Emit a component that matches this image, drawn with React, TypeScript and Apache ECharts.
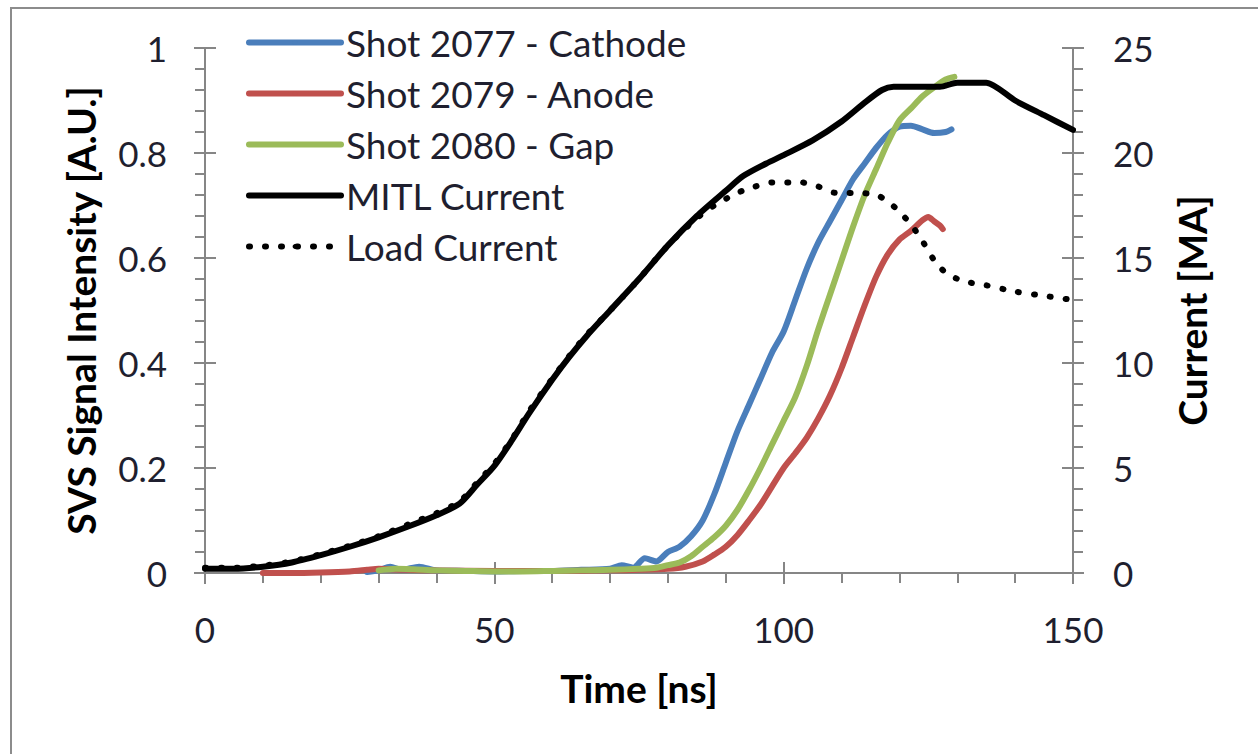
import React, { useEffect, useRef } from "react";
import * as echarts from "echarts";

// Time bases [ns] and signals for each trace
const CATHODE_T = [28, 30, 32, 34, 37, 40, 45, 50, 55, 60, 65, 70, 72, 74, 76, 78, 80, 82, 84, 86, 88, 90, 92, 94, 96, 98, 100, 102, 104, 106, 108, 110, 112, 114, 116, 118, 120, 122, 124, 126, 128, 129];
const CATHODE_V = [0.002, 0.005, 0.012, 0.006, 0.012, 0.005, 0.004, 0.003, 0.004, 0.004, 0.006, 0.008, 0.015, 0.01, 0.028, 0.022, 0.04, 0.05, 0.07, 0.1, 0.15, 0.21, 0.27, 0.32, 0.37, 0.42, 0.46, 0.52, 0.58, 0.63, 0.67, 0.71, 0.75, 0.78, 0.81, 0.835, 0.85, 0.852, 0.845, 0.838, 0.84, 0.845];

const ANODE_T = [10, 15, 20, 25, 28, 30, 35, 40, 50, 60, 70, 75, 80, 83, 86, 88, 90, 92, 94, 96, 98, 100, 102, 104, 106, 108, 110, 112, 114, 116, 118, 120, 122, 124, 125, 126, 127, 127.5];
const ANODE_V = [0, 0, 0.001, 0.003, 0.006, 0.008, 0.006, 0.005, 0.004, 0.004, 0.005, 0.006, 0.008, 0.012, 0.022, 0.035, 0.05, 0.072, 0.1, 0.13, 0.165, 0.2, 0.228, 0.258, 0.295, 0.338, 0.39, 0.45, 0.51, 0.565, 0.607, 0.635, 0.652, 0.672, 0.678, 0.67, 0.662, 0.655];

const GAP_T = [30, 33, 36, 40, 45, 50, 55, 60, 65, 70, 75, 78, 80, 82, 84, 86, 88, 90, 92, 94, 96, 98, 100, 102, 104, 106, 108, 110, 112, 114, 116, 118, 120, 122, 124, 126, 128, 129.5];
const GAP_V = [0.005, 0.008, 0.007, 0.005, 0.004, 0.003, 0.003, 0.004, 0.005, 0.006, 0.008, 0.01, 0.015, 0.02, 0.032, 0.05, 0.068, 0.09, 0.12, 0.158, 0.2, 0.245, 0.29, 0.335, 0.395, 0.465, 0.53, 0.595, 0.66, 0.72, 0.77, 0.82, 0.862, 0.885, 0.908, 0.925, 0.94, 0.945];

// Currents [MA]
const MITL_T = [0, 5, 10, 15, 20, 25, 30, 35, 40, 44, 47, 50, 53, 56, 60, 63, 66, 70, 75, 80, 85, 90, 93, 97, 100, 105, 110, 114, 117, 119, 127, 130, 135, 140, 145, 150];
const MITL_MA = [0.2, 0.2, 0.3, 0.5, 0.85, 1.25, 1.7, 2.2, 2.75, 3.3, 4.2, 5.1, 6.3, 7.6, 9.2, 10.3, 11.3, 12.5, 14.0, 15.6, 17.0, 18.2, 18.9, 19.5, 19.9, 20.6, 21.5, 22.4, 23.0, 23.15, 23.15, 23.35, 23.35, 22.5, 21.8, 21.1];

const LOAD_T = [0, 5, 10, 15, 20, 25, 30, 35, 40, 44, 47, 50, 53, 56, 60, 63, 66, 70, 75, 80, 85, 88, 92, 95, 98, 103, 106, 109, 113, 116, 118, 120, 122, 124, 126, 128, 131, 135, 140, 145, 150];
const LOAD_MA = [0.25, 0.25, 0.35, 0.55, 0.9, 1.3, 1.75, 2.3, 2.85, 3.4, 4.3, 5.2, 6.35, 7.7, 9.25, 10.35, 11.35, 12.5, 14.0, 15.6, 16.9, 17.5, 18.1, 18.4, 18.6, 18.6, 18.4, 18.1, 18.1, 18.0, 17.7, 17.2, 16.6, 15.8, 14.9, 14.3, 13.9, 13.7, 13.4, 13.2, 13.0];

const X_TICKS = { min: 0, max: 150, interval: 50 };
const LEFT_TICKS = { min: 0, max: 1, interval: 0.2 };
const RIGHT_TICKS = { min: 0, max: 25, interval: 5 };

const pairs = (t: number[], v: number[]) => t.map((x, i) => [x, v[i]]);

const FONT = "Lato, 'Open Sans', sans-serif";
const AXIS_GRAY = "#868686";
const TEXT = "#1f1f2f";

export default function App() {
  const ref = useRef<HTMLDivElement>(null);

  useEffect(() => {
    if (!ref.current) return;
    const chart = echarts.init(ref.current, null, { renderer: "svg" });

    const baseAxis = {
      axisLine: { show: true, onZero: false, lineStyle: { color: AXIS_GRAY, width: 2 } },
      axisTick: { show: true, length: 11, lineStyle: { color: AXIS_GRAY, width: 2 } },
      minorTick: { show: true, splitNumber: 5, length: 10, lineStyle: { color: AXIS_GRAY, width: 2 } },
      splitLine: { show: false },
      axisLabel: { color: TEXT, fontSize: 35, fontFamily: FONT, margin: 38 },
      nameTextStyle: { color: "#000", fontSize: 39, fontWeight: "bold", fontFamily: FONT },
    };
    // Inner halves of the major ticks (ticks cross the axis line)
    const innerTicks = {
      axisLine: { show: false, onZero: false },
      axisTick: { show: true, inside: true, length: 11, lineStyle: { color: AXIS_GRAY, width: 2 } },
      minorTick: { show: false },
      splitLine: { show: false },
      axisLabel: { show: false },
    };

    const lineSeries = (name: string, data: number[][], color: string, yAxisIndex: number, extra: any = {}) => ({
      name,
      type: "line",
      data,
      yAxisIndex,
      xAxisIndex: 0,
      symbol: "none",
      showSymbol: false,
      smooth: 0.25,
      lineStyle: { color, width: 6, cap: "round", join: "round", ...extra },
      itemStyle: { color },
      z: 3,
    });

    chart.setOption({
      animation: false,
      backgroundColor: "#fff",
      grid: { left: 205, top: 48, width: 868, height: 525, containLabel: false },
      legend: {
        orient: "vertical",
        left: 246,
        top: 24,
        itemWidth: 92,
        itemHeight: 6,
        itemGap: 14,
        padding: 0,
        lineStyle: { width: 6 },
        textStyle: { color: TEXT, fontSize: 37, fontFamily: FONT },
        data: ["Shot 2077 - Cathode", "Shot 2079 - Anode", "Shot 2080 - Gap", "MITL Current", "Load Current"],
      },
      xAxis: [
        {
          type: "value",
          position: "bottom",
          ...X_TICKS,
          ...baseAxis,
          name: "Time [ns]",
          nameLocation: "middle",
          nameGap: 95,
        },
        { type: "value", position: "bottom", ...X_TICKS, ...innerTicks },
      ],
      yAxis: [
        {
          type: "value",
          position: "left",
          ...LEFT_TICKS,
          ...baseAxis,
          name: "SVS Signal Intensity [A.U.]",
          nameLocation: "middle",
          nameGap: 105,
        },
        {
          type: "value",
          position: "right",
          ...RIGHT_TICKS,
          ...baseAxis,
          axisLabel: { ...baseAxis.axisLabel, margin: 40 },
          name: "Current [MA]",
          nameLocation: "middle",
          nameGap: 99,
        },
        { type: "value", position: "left", ...LEFT_TICKS, ...innerTicks },
        { type: "value", position: "right", ...RIGHT_TICKS, ...innerTicks },
      ],
      graphic: [
        {
          type: "rect",
          shape: { x: 11, y: 8, width: 1300, height: 800 },
          style: { fill: "none", stroke: "#8c8c8c", lineWidth: 2 },
          silent: true,
        },
      ],
      series: [
        lineSeries("Shot 2077 - Cathode", pairs(CATHODE_T, CATHODE_V), "#4a7ebb", 0),
        lineSeries("Shot 2079 - Anode", pairs(ANODE_T, ANODE_V), "#c0504d", 0),
        lineSeries("Shot 2080 - Gap", pairs(GAP_T, GAP_V), "#9bbb59", 0),
        lineSeries("MITL Current", pairs(MITL_T, MITL_MA), "#000000", 1),
        lineSeries("Load Current", pairs(LOAD_T, LOAD_MA), "#000000", 1, { type: [1, 15], cap: "round" }),
      ],
    });

    return () => chart.dispose();
  }, []);

  return (
    <div
      ref={ref}
      style={{ position: "absolute", left: 0, top: 0, width: 1258, height: 754, background: "#fff" }}
    />
  );
}
